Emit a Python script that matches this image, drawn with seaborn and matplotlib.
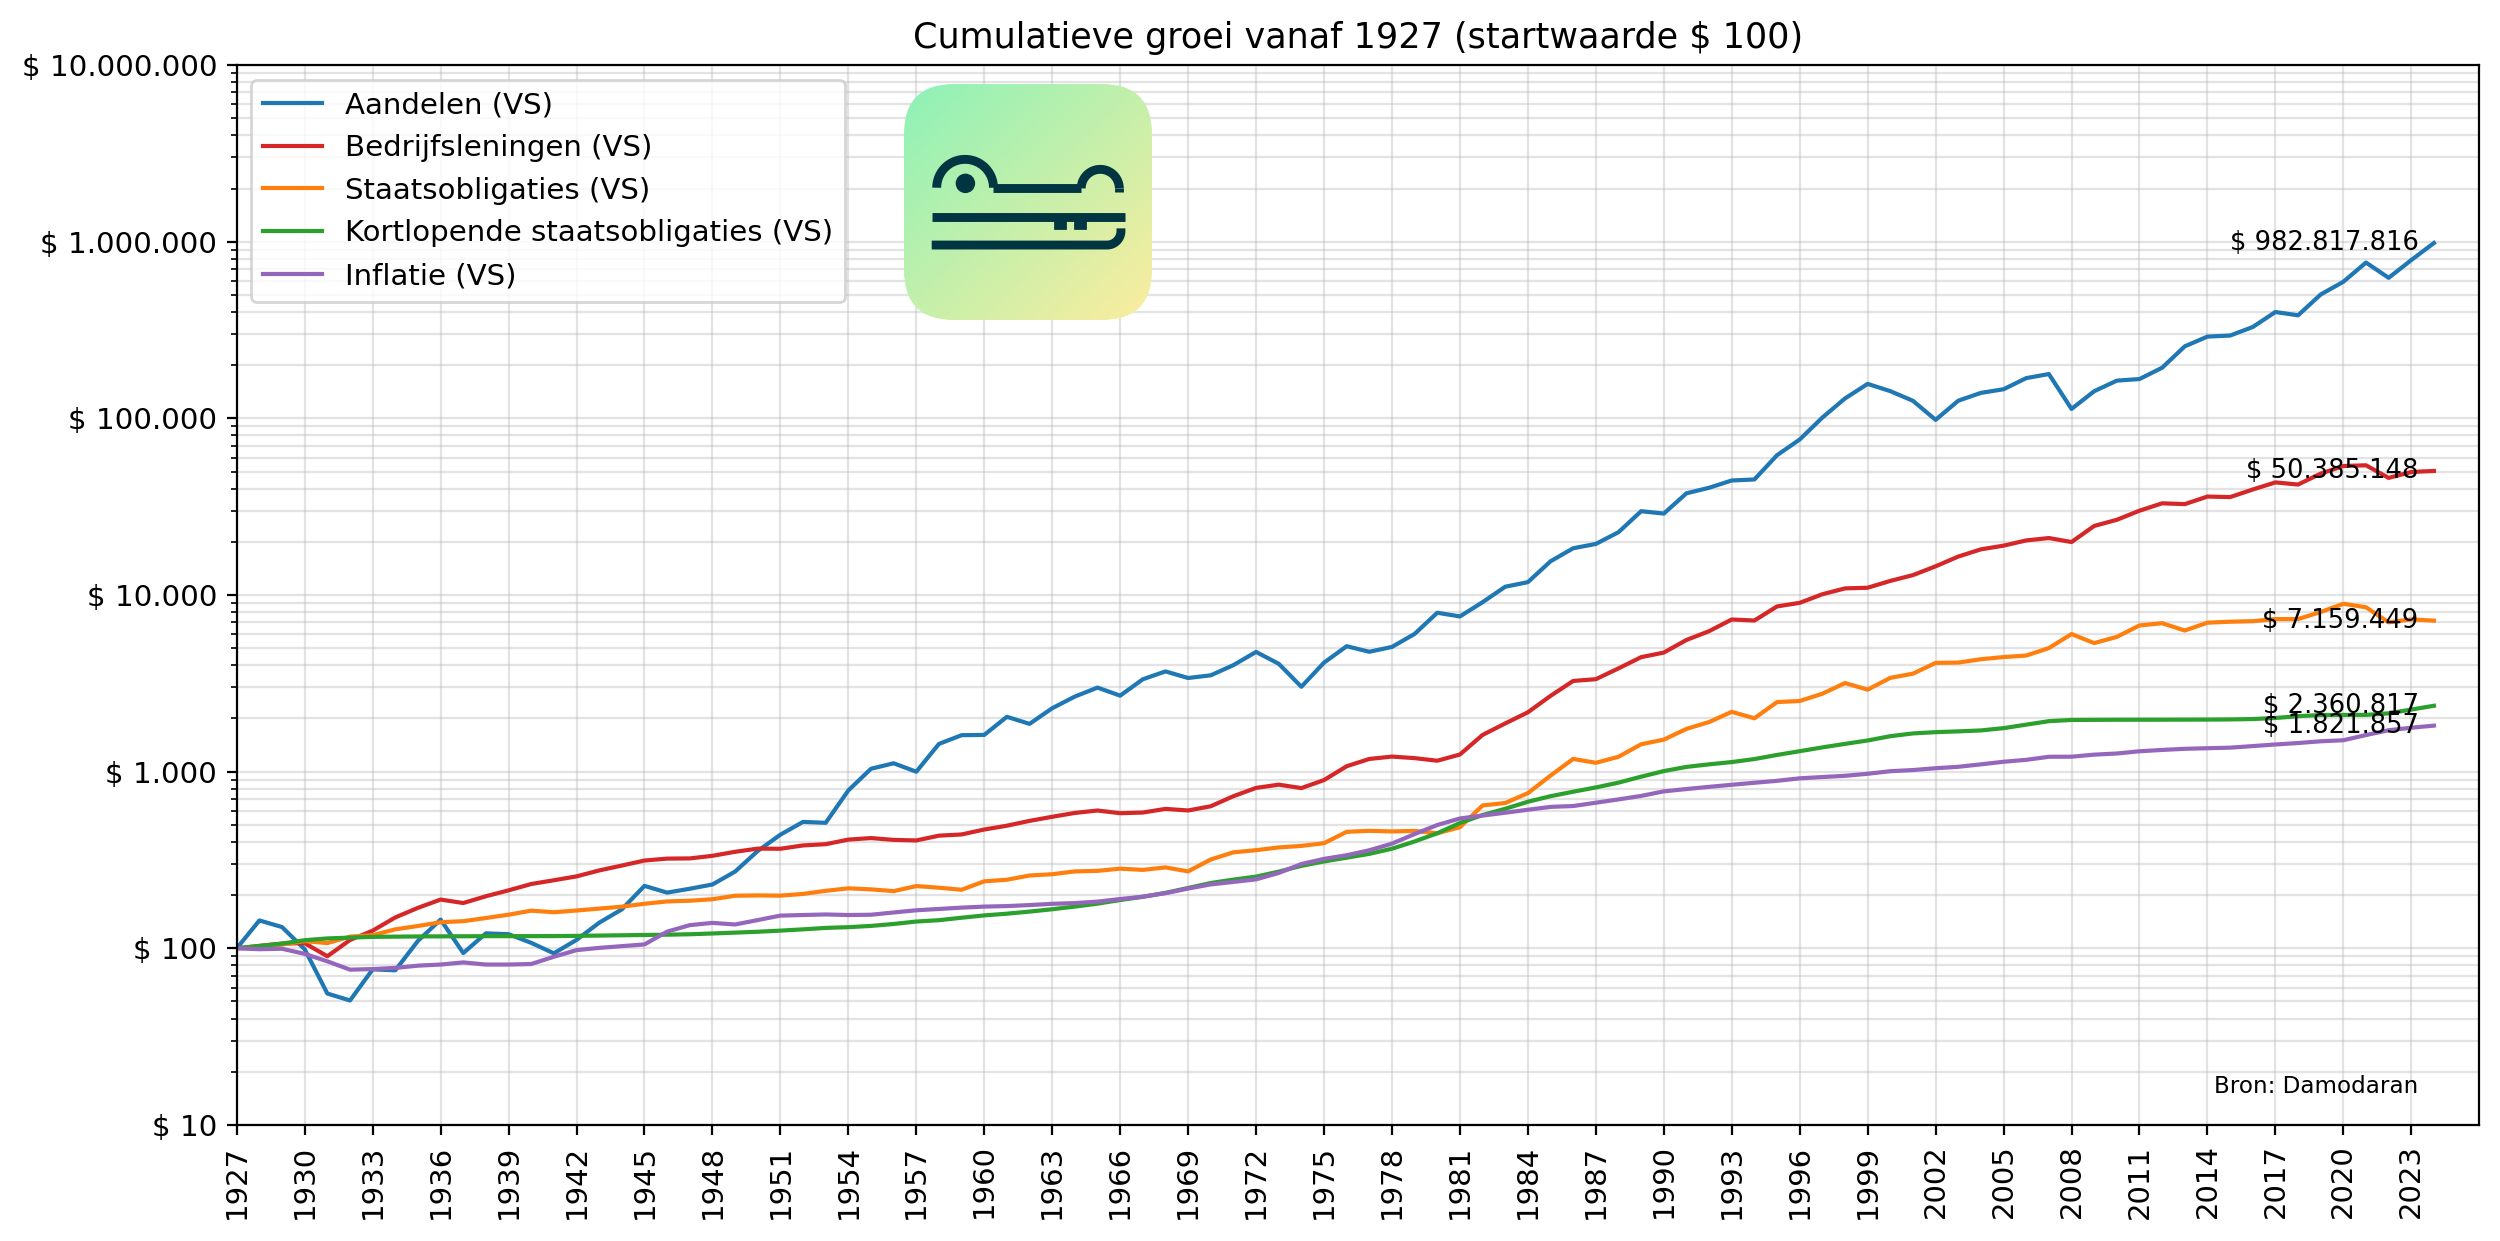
import numpy as np
import pandas as pd
import matplotlib
matplotlib.use("Agg")
import matplotlib.pyplot as plt
from matplotlib.ticker import FuncFormatter, LogLocator, NullFormatter
from matplotlib.patches import FancyBboxPatch, Circle, Rectangle
import seaborn as sns

# Cumulative value of $100 invested at the start (end of 1927), per year
years = list(range(1927, 2025))

aandelen = [
    100, 143.81, 131.87, 98.75, 55.46, 50.67, 75.99, 75.09, 110.18, 145.38,
    94.00, 121.53, 120.19, 107.37, 93.66, 111.61, 139.58, 166.14, 225.65, 206.63,
    217.37, 229.76, 271.81, 355.56, 439.75, 519.56, 513.27, 783.05, 1038.32, 1115.57,
    998.88, 1435.59, 1608.72, 1614.19, 2044.21, 1864.13, 2285.61, 2660.91, 2990.86, 2692.67,
    3333.52, 3693.87, 3389.50, 3510.17, 4009.32, 4761.47, 4080.11, 3023.36, 4142.00, 5129.04,
    4771.03, 5081.62, 6022.74, 7934.36, 7561.45, 9105.50, 11139.67, 11824.76, 15518.81, 18388.24,
    19456.60, 22674.72, 29812.73, 28900.46, 37637.07, 40456.08, 44489.55, 45081.26, 61851.49, 75879.41,
    100995.5, 129617.6, 156694.7, 142545.2, 125653.6, 98047.5, 125853.8, 139370.5, 146102.1, 168908.6,
    178164.8, 113045.6, 142369.6, 163468.8, 166901.6, 193422.3, 255607.6, 290165.8, 294170.1, 328793.9,
    399846.3, 382932.8, 502446.1, 592986.9, 761810.3, 624379.7, 787093.0, 982817.816,
]

bedrijfsleningen = [
    100, 103.22, 106.34, 106.91, 90.15, 111.42, 125.87, 149.56, 169.47, 188.75,
    180.41, 197.08, 212.81, 231.22, 242.80, 255.38, 275.91, 294.04, 314.03, 321.91,
    322.75, 333.85, 351.81, 366.73, 366.03, 382.28, 388.47, 412.40, 420.81, 410.92,
    407.96, 434.19, 441.01, 470.38, 494.37, 526.50, 555.25, 583.90, 602.53, 581.74,
    586.98, 615.45, 602.96, 637.02, 726.20, 809.06, 844.01, 807.04, 896.22, 1073.22,
    1180.01, 1217.06, 1192.60, 1153.00, 1250.55, 1613.84, 1875.12, 2168.01, 2685.29, 3262.36,
    3337.07, 3841.63, 4448.22, 4721.34, 5564.10, 6241.26, 7266.70, 7170.78, 8616.41, 9029.14,
    10097.29, 10900.02, 10991.58, 12017.09, 12956.83, 14534.97, 16501.55, 18133.55, 19025.72, 20367.03,
    21008.59, 19943.46, 24596.37, 26650.17, 30002.76, 33039.04, 32688.83, 36081.92, 35829.35, 39544.86,
    43388.62, 42191.10, 48659.03, 53724.43, 54224.07, 46014.55, 49700.00, 50385.148,
]

staatsobligaties = [
    100, 100.84, 105.07, 109.85, 107.03, 116.44, 118.60, 128.05, 133.77, 140.49,
    142.43, 148.43, 154.98, 163.35, 160.04, 163.71, 167.79, 172.12, 178.66, 184.25,
    185.95, 189.57, 198.41, 199.26, 198.66, 203.17, 211.58, 218.54, 215.61, 210.74,
    225.07, 220.34, 214.50, 239.47, 244.40, 258.31, 262.65, 272.45, 274.41, 282.39,
    277.93, 287.02, 272.64, 318.30, 349.47, 359.32, 372.47, 379.88, 393.60, 456.49,
    462.38, 458.77, 461.85, 448.04, 484.78, 643.84, 664.44, 755.67, 949.95, 1180.60,
    1122.04, 1214.27, 1429.07, 1518.25, 1745.99, 1909.41, 2180.74, 2005.41, 2476.28, 2511.69,
    2761.35, 3173.34, 2911.54, 3396.60, 3585.79, 4127.96, 4143.65, 4329.70, 4453.96, 4541.26,
    5004.92, 6010.91, 5342.50, 5794.46, 6723.89, 6923.59, 6293.54, 6970.10, 7059.32, 7108.03,
    7307.05, 7305.59, 8009.85, 8917.37, 8523.23, 7003.49, 7275.22, 7159.449,
]

kortlopend = [
    100, 103.08, 106.34, 111.18, 113.75, 114.96, 116.07, 116.42, 116.69, 116.86,
    117.00, 117.13, 117.17, 117.21, 117.24, 117.62, 118.07, 118.52, 118.97, 119.42,
    120.10, 121.33, 122.66, 124.10, 125.93, 128.04, 130.46, 131.71, 133.90, 137.33,
    141.76, 144.28, 148.99, 153.53, 157.02, 161.38, 166.40, 172.24, 178.96, 187.62,
    195.74, 206.04, 219.56, 234.25, 244.88, 254.56, 271.69, 292.83, 310.37, 325.79,
    342.51, 366.24, 402.65, 447.83, 511.87, 568.23, 616.24, 675.46, 726.05, 769.90,
    813.94, 866.44, 936.71, 1007.43, 1063.95, 1100.23, 1133.02, 1178.23, 1243.27, 1305.68,
    1371.62, 1436.50, 1501.28, 1587.75, 1646.02, 1673.35, 1690.58, 1711.37, 1762.89, 1845.39,
    1931.02, 1961.72, 1964.47, 1967.02, 1967.61, 1968.59, 1969.97, 1970.96, 1975.10, 1985.17,
    2012.76, 2060.46, 2092.40, 2094.28, 2095.54, 2137.87, 2246.26, 2360.817,
]

inflatie = [
    100, 98.84, 99.41, 93.05, 84.38, 75.71, 76.29, 77.45, 79.76, 80.92,
    83.23, 80.92, 80.92, 81.49, 89.58, 97.67, 100.56, 102.87, 105.19, 124.26,
    135.24, 139.29, 136.40, 144.49, 153.16, 154.31, 155.47, 154.32, 154.89, 159.52,
    164.15, 167.04, 169.93, 172.24, 173.39, 175.70, 178.58, 180.31, 183.77, 190.13,
    195.91, 205.16, 217.88, 230.02, 237.54, 245.64, 267.04, 299.99, 320.81, 336.40,
    358.94, 391.32, 443.33, 498.83, 543.33, 564.14, 585.52, 608.65, 631.78, 638.73,
    667.03, 696.51, 728.90, 773.44, 797.11, 820.22, 842.78, 865.28, 887.26, 916.72,
    932.30, 947.31, 972.70, 1005.67, 1021.26, 1045.57, 1065.23, 1099.96, 1137.58, 1166.47,
    1214.06, 1215.15, 1248.20, 1266.92, 1304.42, 1327.12, 1347.03, 1357.27, 1367.18, 1395.48,
    1424.92, 1452.14, 1485.40, 1505.60, 1611.59, 1715.54, 1773.01, 1821.857,
]

series_names = [
    "Aandelen (VS)",
    "Bedrijfsleningen (VS)",
    "Staatsobligaties (VS)",
    "Kortlopende staatsobligaties (VS)",
    "Inflatie (VS)",
]
series_values = [aandelen, bedrijfsleningen, staatsobligaties, kortlopend, inflatie]
colors = ["#1f77b4", "#d62728", "#ff7f0e", "#2ca02c", "#9467bd"]


def dollar_nl(v, pos=None):
    return "$ " + f"{int(round(v)):,}".replace(",", ".")


def dollar_label(v):
    return "$ " + f"{v:,.3f}".replace(",", ".")


fig = plt.figure(figsize=(12.5, 6.205), dpi=200)
ax = fig.add_axes([0.0947, 0.0935, 0.897, 0.8541])

for name, vals, col in zip(series_names, series_values, colors):
    df = pd.DataFrame({"jaar": years, "waarde": vals})
    sns.lineplot(data=df, x="jaar", y="waarde", ax=ax, color=col, label=name, linewidth=1.5)
    ax.annotate(dollar_label(vals[-1]), xy=(years[-1], vals[-1]), xytext=(-5.5, 0),
                textcoords="offset points", ha="right", va="center", fontsize=9.3)

ax.set_yscale("log")
ax.set_ylim(10, 1e7)
ax.set_xlim(1927, 2026)
ax.yaxis.set_major_locator(LogLocator(base=10))
ax.yaxis.set_minor_locator(LogLocator(base=10, subs=np.arange(2, 10)))
ax.yaxis.set_major_formatter(FuncFormatter(dollar_nl))
ax.yaxis.set_minor_formatter(NullFormatter())
ax.set_xticks(list(range(1927, 2024, 3)))
ax.tick_params(axis="x", labelrotation=90, labelsize=10.5)
ax.tick_params(axis="y", labelsize=10.6)
ax.grid(True, which="both", color="#b0b0b0", alpha=0.35, linewidth=0.8)
ax.set_xlabel("")
ax.set_ylabel("")
ax.set_title("Cumulatieve groei vanaf 1927 (startwaarde $ 100)", fontsize=12.6)

handles, labels = ax.get_legend_handles_labels()
ax.legend(handles, labels, loc="upper left", fontsize=10.55)

ax.text(0.9727, 0.025, "Bron: Damodaran", transform=ax.transAxes,
        ha="right", va="bottom", fontsize=8.3)

# logo in the top of the plot
lax = fig.add_axes([0.3616, 0.7421, 0.0992, 0.1902])
lax.set_xlim(72, 815)
lax.set_ylim(780, 72)
lax.axis("off")
gx, gy = np.meshgrid(np.linspace(0, 1, 200), np.linspace(0, 1, 200))
t = ((gx + gy) / 2)[..., None]
c0 = np.array([0.55, 0.95, 0.72])
c1 = np.array([0.99, 0.93, 0.62])
img = c0 + t * (c1 - c0)
im = lax.imshow(img, extent=(72, 815, 780, 72), aspect="auto", zorder=1)
box = FancyBboxPatch((72, 72), 743, 708, boxstyle="round,pad=0,rounding_size=150",
                     facecolor="none", edgecolor="none", transform=lax.transData)
lax.add_patch(box)
im.set_clip_path(box)

dark = "#013541"
lw = 3.2
kw = dict(color=dark, linewidth=lw, solid_capstyle="butt", zorder=3)
th = np.linspace(0, np.pi, 80)
lax.plot(255 + 85 * np.cos(th), 383 - 85 * np.sin(th), **kw)
lax.plot([340, 603], [383, 383], **kw)
lax.plot(660 + 57 * np.cos(th), 385 - 57 * np.sin(th), **kw)
lax.plot([717, 717], [385, 395], **kw)
lax.add_patch(Circle((256, 370), 25, color=dark, zorder=3))
lax.plot([155, 735], [470, 470], **kw)
lax.add_patch(Rectangle((525, 470), 30, 35, color=dark, zorder=3))
lax.add_patch(Rectangle((585, 470), 30, 35, color=dark, zorder=3))
th2 = np.linspace(-np.pi / 2, 0, 40)
lax.plot(np.r_[155, 680 + 42 * np.cos(th2), 722], np.r_[555, 513 - 42 * np.sin(th2), 505], **kw)

fig.savefig("out.png", dpi=200)
